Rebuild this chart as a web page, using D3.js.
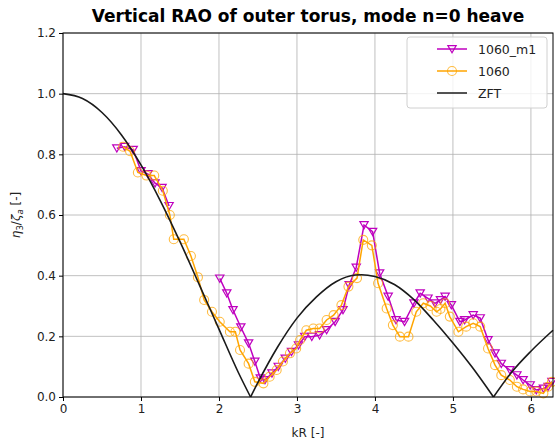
<!DOCTYPE html>
<html>
<head>
<meta charset="utf-8">
<script src="https://cdn.jsdelivr.net/npm/d3@7"></script>
<style>
  body { margin: 0; background: #fff; }
  text { font-family: "DejaVu Sans", sans-serif; }
</style>
</head>
<body>
<script>
// 1060_m1 (two runs, gap between)
const m1X = [0.69, 0.79, 0.90, 1.00, 1.09, 1.18, 1.27, 1.36,
  null,
  2.01, 2.10, 2.18, 2.28, 2.38, 2.46, 2.53, 2.59, 2.68, 2.76, 2.85, 2.93, 3.02, 3.10, 3.19, 3.29, 3.38,
  3.49, 3.59, 3.67, 3.76, 3.86, 3.97, 4.06, 4.17, 4.27, 4.38, 4.50, 4.58, 4.68, 4.77, 4.84, 4.90, 4.98,
  5.09, 5.15, 5.26, 5.35, 5.45, 5.54, 5.62, 5.73, 5.82, 5.90, 5.99, 6.07, 6.16, 6.22, 6.27];
const m1Y = [0.82, 0.825, 0.815, 0.745, 0.735, 0.705, 0.69, 0.63,
  null,
  0.391, 0.342, 0.287, 0.230, 0.177, 0.117, 0.062, 0.056, 0.078, 0.100, 0.127, 0.149, 0.171, 0.199, 0.199, 0.204, 0.221,
  0.248, 0.287, 0.369, 0.427, 0.567, 0.545, 0.408, 0.331, 0.254, 0.248, 0.309, 0.342, 0.325, 0.309, 0.32, 0.331, 0.303,
  0.248, 0.254, 0.270, 0.260, 0.188, 0.144, 0.110, 0.089, 0.072, 0.056, 0.039, 0.023, 0.028, 0.034, 0.05];

// 1060
const o1X = [0.77, 0.86, 0.96, 1.07, 1.17, 1.28, 1.37, 1.42, 1.55, 1.64, 1.73, 1.81, 1.91, 2.01, 2.14, 2.21,
  2.27, 2.38, 2.46, 2.57, 2.65, 2.74, 2.82, 2.91, 2.99, 3.04, 3.12, 3.21, 3.29, 3.38, 3.47, 3.57, 3.66,
  3.77, 3.85, 3.96, 4.04, 4.15, 4.23, 4.32, 4.43, 4.53, 4.62, 4.71, 4.79, 4.84, 4.90, 4.96, 5.07, 5.17,
  5.26, 5.35, 5.45, 5.54, 5.62, 5.73, 5.82, 5.90, 5.99, 6.07, 6.16, 6.22, 6.27];
const o1Y = [0.825, 0.81, 0.74, 0.73, 0.73, 0.68, 0.60, 0.52, 0.52, 0.465, 0.395, 0.32, 0.281, 0.248, 0.215, 0.215,
  0.155, 0.11, 0.05, 0.045, 0.067, 0.089, 0.117, 0.144, 0.16, 0.188, 0.22, 0.226, 0.226, 0.254, 0.27, 0.303, 0.364,
  0.392, 0.518, 0.50, 0.375, 0.292, 0.237, 0.199, 0.199, 0.281, 0.309, 0.30, 0.281, 0.29, 0.309, 0.265, 0.215, 0.232,
  0.243, 0.232, 0.16, 0.105, 0.072, 0.056, 0.034, 0.025, 0.018, 0.018, 0.012, 0.034, 0.05];

// ZFT (null splits at the zeros)
const zftX = [0, 0.25, 0.5, 0.75, 1.0, 1.25, 1.5, 1.75, 2.0, 2.25, 2.405, null,
  2.405, 2.5, 2.75, 3.0, 3.25, 3.5, 3.75, 3.83, 4.0, 4.25, 4.5, 4.75, 5.0, 5.25, 5.52, null,
  5.52, 5.75, 6.0, 6.283];
const zftY = [1.0, 0.984, 0.938, 0.864, 0.765, 0.646, 0.512, 0.369, 0.224, 0.080, 0, null,
  0, 0.048, 0.164, 0.260, 0.330, 0.380, 0.402, 0.403, 0.397, 0.371, 0.321, 0.253, 0.178, 0.097, 0, null,
  0, 0.081, 0.151, 0.220];

const xTicks = [0, 1, 2, 3, 4, 5, 6];
const yTicks = [0.0, 0.2, 0.4, 0.6, 0.8, 1.0, 1.2];

const W = 555, H = 445;
const margin = { left: 63, right: 2, top: 33, bottom: 48 };

const svg = d3.select('body').append('svg')
  .attr('width', W)
  .attr('height', H);

const x = d3.scaleLinear().domain([0, 2 * Math.PI]).range([margin.left, W - margin.right]);
const y = d3.scaleLinear().domain([0, 1.2]).range([H - margin.bottom, margin.top]);

// grid
svg.append('g').selectAll('line').data(xTicks).enter().append('line')
  .attr('x1', d => x(d)).attr('x2', d => x(d))
  .attr('y1', y(0)).attr('y2', y(1.2))
  .attr('stroke', '#b0b0b0').attr('stroke-width', 0.8);
svg.append('g').selectAll('line').data(yTicks).enter().append('line')
  .attr('x1', x(0)).attr('x2', x(2 * Math.PI))
  .attr('y1', d => y(d)).attr('y2', d => y(d))
  .attr('stroke', '#b0b0b0').attr('stroke-width', 0.8);

const pts = (xs, ys) => xs.map((v, i) => [v, ys[i]]);

const line = d3.line()
  .defined(d => d[0] !== null)
  .x(d => x(d[0])).y(d => y(d[1]));

const plot = svg.append('g');

// ZFT in segments
const zft = pts(zftX, zftY);
let seg = [];
const zSegs = [];
zft.forEach(d => {
  if (d[0] === null) { zSegs.push(seg); seg = []; } else seg.push(d);
});
zSegs.push(seg);

const m1 = pts(m1X, m1Y);
const o1 = pts(o1X, o1Y);

plot.append('path').datum(m1)
  .attr('d', line)
  .attr('fill', 'none').attr('stroke', '#bf00bf').attr('stroke-width', 1.5);
const tri = d3.symbol().type(d3.symbolTriangle).size(30);
plot.append('g').selectAll('path').data(m1.filter(d => d[0] !== null)).enter().append('path')
  .attr('d', tri)
  .attr('transform', d => `translate(${x(d[0])},${y(d[1]) - 1}) rotate(180)`)
  .attr('fill', 'none').attr('stroke', '#bf00bf').attr('stroke-width', 1.2);

plot.append('path').datum(o1)
  .attr('d', line)
  .attr('fill', 'none').attr('stroke', 'orange').attr('stroke-width', 1.5);
plot.append('g').selectAll('circle').data(o1).enter().append('circle')
  .attr('cx', d => x(d[0])).attr('cy', d => y(d[1]))
  .attr('r', 4.5)
  .attr('fill', 'none').attr('stroke', 'orange').attr('stroke-width', 1.1).attr('stroke-opacity', 0.75);

const zLine = d3.line().curve(d3.curveMonotoneX).x(d => x(d[0])).y(d => y(d[1]));
zSegs.forEach(s => {
  plot.append('path').datum(s)
    .attr('d', zLine)
    .attr('fill', 'none').attr('stroke', '#1a1a1a').attr('stroke-width', 1.6);
});

// axes
const xAxis = d3.axisBottom(x).tickValues(xTicks).tickFormat(d3.format('d')).tickSize(4).tickPadding(3);
const yAxis = d3.axisLeft(y).tickValues(yTicks).tickFormat(d3.format('.1f')).tickSize(4).tickPadding(3);

svg.append('g').attr('transform', `translate(0,${y(0)})`).call(xAxis)
  .call(g => g.select('.domain').remove())
  .selectAll('text').attr('font-size', 12).attr('fill', '#222').attr('font-family', 'DejaVu Sans');
svg.append('g').attr('transform', `translate(${x(0)},0)`).call(yAxis)
  .call(g => g.select('.domain').remove())
  .selectAll('text').attr('font-size', 12).attr('fill', '#222').attr('font-family', 'DejaVu Sans');

svg.append('rect')
  .attr('x', x(0)).attr('y', y(1.2))
  .attr('width', x(2 * Math.PI) - x(0)).attr('height', y(0) - y(1.2))
  .attr('fill', 'none').attr('stroke', '#000').attr('stroke-width', 1);

// title and labels
svg.append('text')
  .attr('x', (x(0) + x(2 * Math.PI)) / 2).attr('y', 22)
  .attr('text-anchor', 'middle')
  .attr('font-size', 17).attr('font-weight', 'bold')
  .text('Vertical RAO of outer torus, mode n=0 heave');

svg.append('text')
  .attr('x', (x(0) + x(2 * Math.PI)) / 2).attr('y', 437)
  .attr('text-anchor', 'middle')
  .attr('font-size', 12).attr('fill', '#222')
  .text('kR [-]');

const yl = svg.append('text')
  .attr('transform', `translate(20,${(y(0) + y(1.2)) / 2}) rotate(-90)`)
  .attr('text-anchor', 'middle')
  .attr('font-size', 12).attr('fill', '#222');
yl.append('tspan').attr('font-style', 'italic').text('η');
yl.append('tspan').attr('font-size', 8.5).attr('dy', 3).text('3');
yl.append('tspan').attr('dy', -3).text('/');
yl.append('tspan').attr('font-style', 'italic').text('ζ');
yl.append('tspan').attr('font-size', 8.5).attr('font-style', 'italic').attr('dy', 3).text('a');
yl.append('tspan').attr('dy', -3).text(' [-]');

// legend
const names = ['1060_m1', '1060', 'ZFT'];
const colors = ['#bf00bf', 'orange', '#1a1a1a'];
const lg = svg.append('g').attr('transform', 'translate(407,37)');
lg.append('rect')
  .attr('width', 140).attr('height', 71).attr('rx', 3)
  .attr('fill', '#fff').attr('fill-opacity', 0.8)
  .attr('stroke', '#d0d0d0');
names.forEach((n, i) => {
  const cy = 12 + i * 22;
  lg.append('line')
    .attr('x1', 30).attr('x2', 60).attr('y1', cy).attr('y2', cy)
    .attr('stroke', colors[i]).attr('stroke-width', 1.5);
  if (i === 0) {
    lg.append('path').attr('d', tri)
      .attr('transform', `translate(45,${cy - 1}) rotate(180)`)
      .attr('fill', 'none').attr('stroke', colors[i]).attr('stroke-width', 1.2);
  } else if (i === 1) {
    lg.append('circle').attr('cx', 45).attr('cy', cy).attr('r', 4.5)
      .attr('fill', 'none').attr('stroke', colors[i]).attr('stroke-width', 1.1).attr('stroke-opacity', 0.75);
  }
  lg.append('text')
    .attr('x', 71).attr('y', cy + 4.5)
    .attr('font-size', 12.5).attr('fill', '#222')
    .text(n);
});
</script>
</body>
</html>
